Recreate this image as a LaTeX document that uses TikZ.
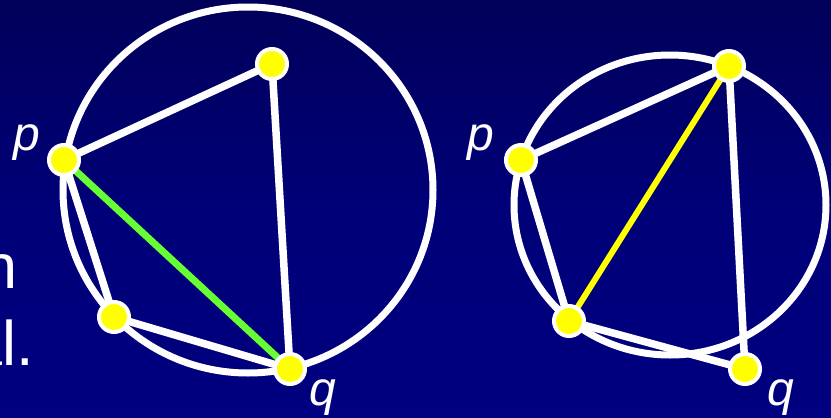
\documentclass[tikz,border=0pt]{standalone}
\usepackage{fontspec}
\setmainfont{Liberation Sans}
\pgfdeclarelayer{back}
\pgfdeclarelayer{edges}
\pgfsetlayers{back,edges,main}
\definecolor{bgtop}{RGB}{0,0,90}
\definecolor{bgmid}{RGB}{0,0,120}
\definecolor{bgbot}{RGB}{0,0,128}
\definecolor{ptyellow}{RGB}{255,255,0}
\definecolor{edgegreen}{RGB}{102,255,51}
\tikzset{
  x=1pt, y=-1pt,
  pt/.style={circle, draw=white, line width=4pt, fill=ptyellow, minimum size=30pt, inner sep=0pt},
  wedge/.style={white, line width=7.5pt},
  ring/.style={white, line width=7pt},
  lbl/.style={text=white, font=\fontsize{48}{50}\selectfont\itshape, inner sep=0pt, anchor=base},
  bodytext/.style={text=white, font=\fontsize{63}{70}\selectfont, inner sep=0pt, anchor=base east},
}
\begin{document}
\begin{tikzpicture}
\useasboundingbox (0,0) rectangle (831,418);
\clip (0,0) rectangle (831,418);
\begin{pgfonlayer}{back}
\shade[top color=bgtop, bottom color=bgbot, middle color=bgmid] (0,0) rectangle (831,418);
\end{pgfonlayer}
% left figure
\node[pt] (pL) at (64,160) {};
\node[pt] (tL) at (272,64) {};
\node[pt] (bL) at (114,317) {};
\node[pt] (qL) at (290,369) {};
% right figure
\node[pt] (pR) at (521,160) {};
\node[pt] (tR) at (729,66) {};
\node[pt] (bR) at (569,321) {};
\node[pt] (qR) at (745,369) {};
\begin{pgfonlayer}{edges}
\draw[ring] (248,190) ellipse [x radius=185, y radius=183];
\draw[ring] (670,205) ellipse [x radius=156, y radius=150];
\draw[wedge] (pL.center) -- (tL.center) -- (qL.center) -- (bL.center) -- (pL.center);
\draw[edgegreen, line width=7pt] (pL.center) -- (qL.center);
\draw[wedge] (pR.center) -- (tR.center) -- (qR.center) -- (bR.center) -- (pR.center);
\draw[ptyellow, line width=6pt] (tR.center) -- (bR.center);
\end{pgfonlayer}
\node[lbl] (labpL) at (27,150) {p};
\node[lbl] (labpR) at (481,150) {p};
\node[lbl] (labqL) at (323,405) {q};
\node[lbl] (labqR) at (781,405) {q};
\node[bodytext] (txtA) at (18,288) {n};
\node[bodytext] (txtB) at (34,365) {al.};
\end{tikzpicture}
\end{document}
